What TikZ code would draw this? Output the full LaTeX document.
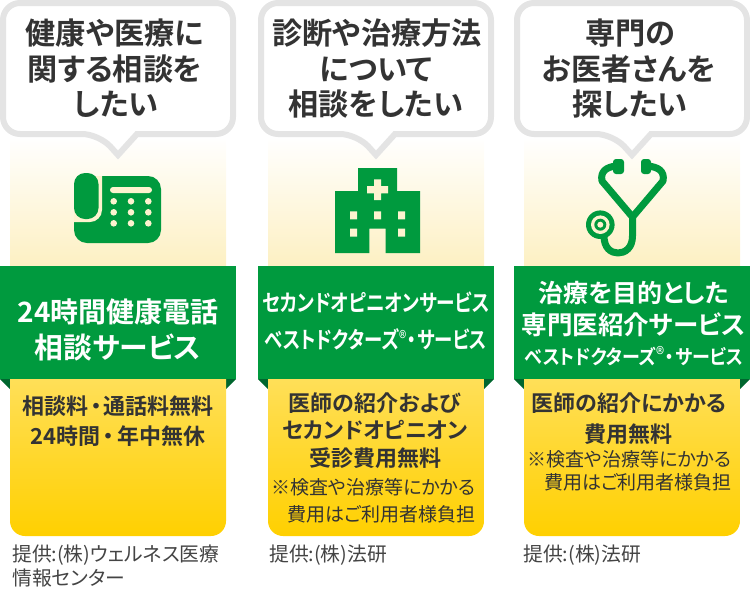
\documentclass[tikz,border=0pt]{standalone}
\usepackage{fontspec}
\setmainfont[RawFeature=+palt,BoldFont={Noto Sans CJK JP Bold}]{Noto Sans CJK JP}
\usepackage{tikz}
\definecolor{bandgreen}{HTML}{009A3E}
\definecolor{folddark}{HTML}{00662E}
\definecolor{bubblegray}{HTML}{E4E4E4}
\definecolor{inktext}{HTML}{333333}
\definecolor{creditink}{HTML}{444444}
\definecolor{paleyellow}{HTML}{FDF0C2}
\definecolor{iconcream}{HTML}{FDF3CF}
\definecolor{topyellow}{HTML}{FFDF58}
\definecolor{lowyellow}{HTML}{FFD000}
\tikzset{
    askbubble/.style={draw=bubblegray, fill=white, line width=6pt, line join=miter},
    paletop/.style={top color=white, bottom color=paleyellow},
    paylow/.style={top color=topyellow, bottom color=lowyellow},
    band/.style={fill=bandgreen},
    fold/.style={fill=folddark},
    icon/.style={fill=bandgreen},
    hole/.style={fill=iconcream},
    tube/.style={draw=bandgreen, line width=7pt, line cap=round, line join=round},
    asktext/.style={anchor=base, inner sep=0pt, text=inktext, font=\fontsize{30.2}{30.2}\selectfont\bfseries},
    bandtext/.style={anchor=base, inner sep=0pt, text=white, font=\fontsize{#1}{#1}\selectfont\bfseries},
    paytext/.style={anchor=base, inner sep=0pt, text=inktext, font=\fontsize{22}{22}\selectfont\bfseries},
    notetext/.style={anchor=base, inner sep=0pt, text=inktext, font=\fontsize{19}{19}\selectfont},
    credittext/.style={anchor=base west, inner sep=0pt, text=creditink, font=\fontsize{19.8}{19.8}\selectfont}
}
\newcommand{\regmark}{\raisebox{.12em}{\fontsize{19}{19}\selectfont\mdseries ®}}
\newcommand{\tightline}[2]{\scalebox{#1}[1]{#2}}
\begin{document}
\begin{tikzpicture}[x=1pt, y=-1pt]
    \useasboundingbox (0,0) rectangle (750,590);

    \shade[paletop] (10,137) rectangle (226,267);
    \fill[band] (0,266) rectangle (236,379);
    \fill[fold] (0,379) -- (10,379) -- (10,389) -- cycle;
    \fill[fold] (236,379) -- (226,379) -- (226,389) -- cycle;
    \shade[paylow] (10,379) -- (226,379) [rounded corners=15pt] -- (226,536) -- (10,536) [sharp corners] -- cycle;
    \draw[askbubble] (99,134) [sharp corners] -- (118,155) -- (137,134) [rounded corners=17pt] -- (233,134) -- (233,3) -- (3,3) -- (3,134) -- cycle;

    \fill[icon, rounded corners=13pt] (74,176) rectangle (161,243);
    \begin{scope}
        \clip[rounded corners=13pt] (74,176) rectangle (161,243);
        \fill[hole, rounded corners=12pt] (60,160) rectangle (102,222);
    \end{scope}
    \fill[icon, rounded corners=11pt] (74,173) rectangle (98.5,219);
    \fill[hole, rounded corners=3pt] (110,187) rectangle (152,193);
    \fill[hole] (113.7,201.3) circle (3.3) (131,201.3) circle (3.3) (148.3,201.3) circle (3.3);
    \fill[hole] (113.7,212.3) circle (3.3) (131,212.3) circle (3.3) (148.3,212.3) circle (3.3);
    \fill[hole] (113.7,223.3) circle (3.3) (131,223.3) circle (3.3) (148.3,223.3) circle (3.3);

    \node[asktext] (askAa) at (115,44) {健康や医療に};
    \node[asktext] (askAb) at (115,80) {関する相談を};
    \node[asktext] (askAc) at (116,115) {したい};
    \node[bandtext=28] (bandAa) at (118,322) {24時間健康電話};
    \node[bandtext=28.8] (bandAb) at (118,358) {相談サービス};
    \node[paytext] (payAa) at (118,414) {相談料\kern2pt・\kern2pt通話料無料};
    \node[paytext] (payAb) at (118,444) {24時間\kern3pt・\kern3pt年中無休};
    \node[credittext] (creditAa) at (12,561) {提供:(株)ウェルネス医療};
    \node[credittext] (creditAb) at (12,585) {情報センター};

    \shade[paletop] (258+10,137) rectangle (258+226,267);
    \fill[band] (258,266) rectangle (258+236,379);
    \fill[fold] (258,379) -- (258+10,379) -- (258+10,389) -- cycle;
    \fill[fold] (258+236,379) -- (258+226,379) -- (258+226,389) -- cycle;
    \shade[paylow] (258+10,379) -- (258+226,379) [rounded corners=15pt] -- (258+226,536) -- (258+10,536) [sharp corners] -- cycle;
    \draw[askbubble] (258+99,134) [sharp corners] -- (258+118,155) -- (258+137,134) [rounded corners=17pt] -- (258+233,134) -- (258+233,3) -- (258+3,3) -- (258+3,134) -- cycle;

    \fill[icon] (335,191) -- (358,191) -- (358,168) -- (397,168) -- (397,191) -- (420,191) -- (420,253) -- (385.7,253) -- (385.7,228.7) -- (369.3,228.7) -- (369.3,253) -- (335,253) -- cycle;
    \fill[hole] (374,179.3) rectangle (381,200) (367,186) rectangle (388,193.3);
    \fill[hole] (350,211.3) rectangle (357,219.3) (374,211.3) rectangle (381,219.3) (398,211.3) rectangle (405,219.3);
    \fill[hole] (350,228.7) rectangle (357,236.7) (398,228.7) rectangle (405,236.7);

    \node[asktext] (askBa) at (377,44) {診断や治療方法};
    \node[asktext] (askBb) at (376,80) {について};
    \node[asktext] (askBc) at (376,115) {相談をしたい};
    \node[bandtext=23] (bandBa) at (376,311) {\tightline{.81}{セカンドオピニオンサービス}};
    \node[bandtext=23] (bandBb) at (376,348) {\tightline{.8}{ベストドクターズ\regmark\kern1pt・\kern1ptサービス}};
    \node[paytext] (payBa) at (375,411) {医師の紹介および};
    \node[paytext] (payBb) at (375,438) {セカンドオピニオン};
    \node[paytext] (payBc) at (375,466) {受診費用無料};
    \node[notetext] (noteBa) at (373.5,494) {※検査や治療等にかかる};
    \node[notetext] (noteBb) at (381.5,521) {費用はご利用者様負担};
    \node[credittext] (creditBa) at (269,561) {提供:(株)法研};

    \shade[paletop] (514+10,137) rectangle (514+226,267);
    \fill[band] (514,266) rectangle (514+236,379);
    \fill[fold] (514,379) -- (514+10,379) -- (514+10,389) -- cycle;
    \fill[fold] (514+236,379) -- (514+226,379) -- (514+226,389) -- cycle;
    \shade[paylow] (514+10,379) -- (514+226,379) [rounded corners=15pt] -- (514+226,536) -- (514+10,536) [sharp corners] -- cycle;
    \draw[askbubble] (514+99,134) [sharp corners] -- (514+118,155) -- (514+137,134) [rounded corners=17pt] -- (514+233,134) -- (514+233,3) -- (514+3,3) -- (514+3,134) -- cycle;

    \fill[icon, rounded corners=3pt] (613,159) rectangle (624,174) (641,159) rectangle (651,174);
    \draw[tube] (616,166) .. controls (607,167) and (600,171) .. (602,181) -- (632.5,217) -- (663,181) .. controls (665,171) and (658,167) .. (648,166);
    \draw[tube] (632.5,217) -- (632.5,236) .. controls (632.5,248) and (625,253) .. (618,253) .. controls (611,253) and (604,248) .. (604,236);
    \fill[icon] (600.3,224.7) circle (14.3);
    \fill[hole] (600.3,224.7) circle (9.3);
    \fill[icon] (600.3,224.7) circle (6);
    \fill[hole] (600.3,224.7) circle (3);

    \node[asktext] (askCa) at (630.5,44) {専門の};
    \node[asktext] (askCb) at (629,80) {お医者さんを};
    \node[asktext] (askCc) at (630,115) {探したい};
    \node[bandtext=25] (bandCa) at (634,302) {治療を目的とした};
    \node[bandtext=25.5] (bandCb) at (633.5,334) {専門医紹介サービス};
    \node[bandtext=20] (bandCc) at (634,364) {\tightline{.9}{ベストドクターズ\regmark\kern1pt・\kern1ptサービス}};
    \node[paytext] (payCa) at (629,411) {医師の紹介にかかる};
    \node[paytext] (payCb) at (628,442) {費用無料};
    \node[notetext] (noteCa) at (629.5,466) {※検査や治療等にかかる};
    \node[notetext] (noteCb) at (638,489) {費用はご利用者様負担};
    \node[credittext] (creditCa) at (523,561) {提供:(株)法研};
\end{tikzpicture}
\end{document}
